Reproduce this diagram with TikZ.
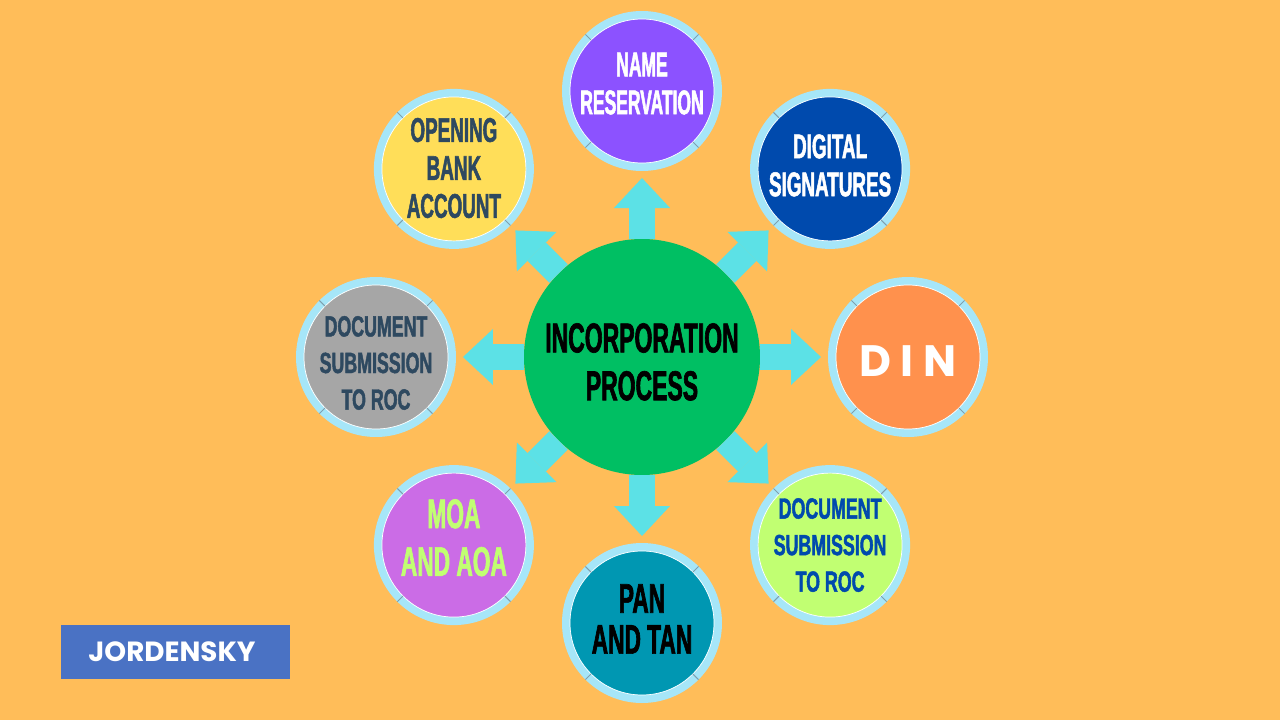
\documentclass[tikz,border=0pt]{standalone}
\usepackage{fontspec}
\usetikzlibrary{arrows.meta}
\newfontfamily\antonfont{Liberation Sans Bold}[FakeStretch=0.55,FakeBold=1.5]
\newfontfamily\antonnarrow{Liberation Sans Bold}[FakeStretch=0.51,FakeBold=1.5]
\newfontfamily\antonwide{Liberation Sans Bold}[FakeStretch=0.61,FakeBold=1.5]
\newfontfamily\logofont{Poppins}
\definecolor{bgorange}{HTML}{FFBD59}
\definecolor{arrowcyan}{HTML}{5CE1E6}
\definecolor{hubgreen}{HTML}{00BF63}
\definecolor{ringblue}{HTML}{A6E6F8}
\definecolor{tickgray}{HTML}{7E9FAE}
\definecolor{namepurple}{HTML}{8C52FF}
\definecolor{sigblue}{HTML}{004AAD}
\definecolor{dinorange}{HTML}{FF914D}
\definecolor{limegreen}{HTML}{C1FF72}
\definecolor{panteal}{HTML}{0097B2}
\definecolor{moaviolet}{HTML}{CB6CE6}
\definecolor{docgray}{HTML}{A6A6A6}
\definecolor{bankyellow}{HTML}{FFDE59}
\definecolor{slate}{HTML}{2E4960}
\definecolor{logoblue}{HTML}{4A72C4}
\begin{document}
\begin{tikzpicture}[
		stepring/.style={circle, minimum size=3.04cm, inner sep=0pt, outer sep=0pt, draw=ringblue, line width=0.16cm},
		steplabel/.style={align=center, inner sep=0pt},
		flow/.style={arrowcyan, line width=0.52cm, -{Triangle[length=0.6cm,width=1.12cm,line width=0pt]}, shorten >=0.22cm},
		small/.style={font=\antonwide\fontsize{16.6}{20.8}\selectfont},
		medium/.style={font=\antonfont\fontsize{19.5}{21.6}\selectfont},
		large/.style={font=\antonfont\fontsize{23.5}{23.3}\selectfont}
	]
		\useasboundingbox (-12.84,-7.26) rectangle (12.76,7.14);
		\fill[bgorange] (-12.84,-7.26) rectangle (12.76,7.14);
		% centre and the eight steps
		\node[circle, fill=hubgreen, minimum size=4.72cm, inner sep=0pt, outer sep=0pt,
			label={[steplabel, yshift=-2.8pt, font=\antonfont\fontsize{23.75}{27.2}\selectfont]center:INCORPORATION\\PROCESS}] (hub) at (0,0) {};
		\node[stepring, fill=namepurple, label={[steplabel, text=white, yshift=4.2pt, font=\antonnarrow\fontsize{19.5}{21.6}\selectfont]center:NAME\\RESERVATION}] (name) at (90:5.32) {};
		\node[stepring, fill=sigblue, label={[steplabel, text=white, yshift=2pt, medium]center:DIGITAL\\SIGNATURES}] (sign) at (45:5.32) {};
		\node[stepring, fill=dinorange, label={[steplabel, text=white, yshift=-2.3pt, font=\logofont\bfseries\fontsize{25}{30}\selectfont]center:D I N}] (din) at (0:5.32) {};
		\node[stepring, fill=limegreen, label={[steplabel, text=sigblue, small]center:DOCUMENT\\SUBMISSION\\TO ROC}] (docb) at (-45:5.32) {};
		\node[stepring, fill=panteal, label={[steplabel, text=black, yshift=2.3pt, large]center:PAN\\AND TAN}] (pan) at (-90:5.32) {};
		\node[stepring, fill=moaviolet, label={[steplabel, text=limegreen, yshift=4.2pt, font=\antonfont\fontsize{23.5}{27.2}\selectfont]center:MOA\\AND AOA}] (moa) at (-135:5.32) {};
		\node[stepring, fill=docgray, label={[steplabel, text=slate, yshift=-3.4pt, small]center:DOCUMENT\\SUBMISSION\\TO ROC}] (docg) at (180:5.32) {};
		\node[stepring, fill=bankyellow, label={[steplabel, text=slate, yshift=0.5pt, medium]center:OPENING\\BANK\\ACCOUNT}] (bank) at (135:5.32) {};
		\foreach \s in {name,sign,din,docb,pan,moa,docg,bank}{
			\draw[white, line width=0.4pt] (\s.center) circle (1.44);
			\foreach \a in {45,135,225,315}
				\draw[tickgray, line width=0.6pt] ([shift={(\a:1.44)}]\s.center) -- ([shift={(\a:1.6)}]\s.center);
			\draw[flow] (hub) -- (\s);
		}
		\node[fill=logoblue, minimum width=4.58cm, minimum height=1.08cm, inner sep=0pt, text=white, font=\logofont\bfseries\fontsize{15.8}{18}\selectfont] (logo) at (-9.33,-5.90) {\hspace*{-4pt}JORDENSKY};
	\end{tikzpicture}
\end{document}
